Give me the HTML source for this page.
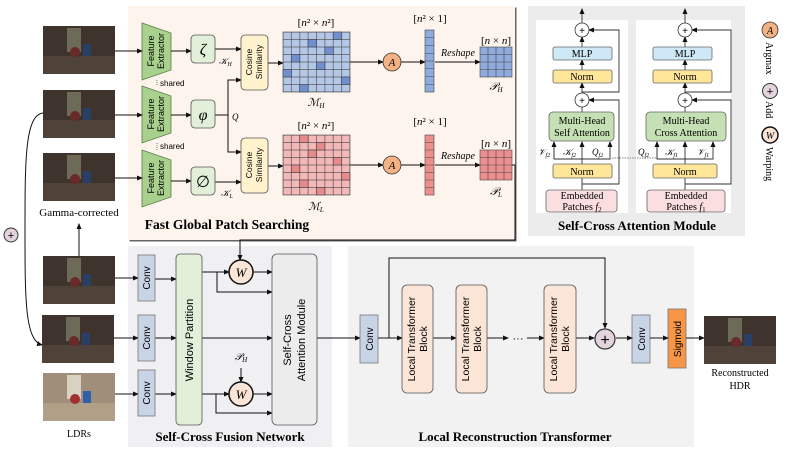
<!DOCTYPE html>
<html><head><meta charset="utf-8"><style>
html,body{margin:0;padding:0;background:#fff;}
svg{display:block;}
.s{font-family:"Liberation Sans",sans-serif;}
.r{font-family:"Liberation Serif",serif;}
</style></head><body>
<svg width="789" height="453" viewBox="0 0 789 453" xmlns="http://www.w3.org/2000/svg">
<defs>
<marker id="ar" markerWidth="6" markerHeight="6" refX="5" refY="3" orient="auto" markerUnits="userSpaceOnUse"><path d="M0,0.5 L6,3 L0,5.5 z" fill="#111"/></marker>
<pattern id="gb" width="8.375" height="7.5" patternUnits="userSpaceOnUse" x="283" y="32"><rect width="8.375" height="7.5" fill="#b4c7e7" stroke="#444" stroke-width="0.6"/></pattern>
<pattern id="gr" width="8.375" height="7.5" patternUnits="userSpaceOnUse" x="283" y="135"><rect width="8.375" height="7.5" fill="#f4b8b8" stroke="#444" stroke-width="0.6"/></pattern>
<g id="img">
<rect x="0" y="0" width="72" height="48" fill="#3f342d"/>
<rect x="24" y="2" width="14" height="24" fill="#6e6a58"/>
<rect x="0" y="30" width="72" height="18" fill="#4e4239"/>
<circle cx="32" cy="26" r="5" fill="#6a2a2a"/>
<rect x="40" y="18" width="8" height="12" fill="#2a3f66"/>
</g>
<g id="imgb">
<rect x="0" y="0" width="72" height="48" fill="#a08e7a"/>
<rect x="24" y="2" width="14" height="24" fill="#d8d2c2"/>
<rect x="0" y="30" width="72" height="18" fill="#b0a088"/>
<circle cx="32" cy="26" r="5" fill="#a03030"/>
<rect x="40" y="18" width="8" height="12" fill="#3060a8"/>
</g>
</defs>

<rect x="129.5" y="7.5" width="387" height="234" fill="#666"/>
<rect x="128" y="6" width="387" height="234" fill="#fdf4ee"/>
<rect x="528" y="6" width="217" height="230" fill="#ececec"/>
<rect x="536" y="20" width="92" height="193" fill="#fff"/>
<rect x="636" y="20" width="95" height="193" fill="#fff"/>
<rect x="128" y="246" width="204" height="201" fill="#f0f0f2"/>
<rect x="348" y="246" width="346" height="201" fill="#f2f2f2"/>

<use href="#img" x="43" y="26"/>
<use href="#img" x="43" y="90"/>
<use href="#img" x="43" y="153"/>
<use href="#img" x="43" y="256"/>
<use href="#img" x="42" y="315"/>
<use href="#imgb" x="43" y="373"/>
<use href="#img" x="704" y="316"/>
<text x="79" y="216" class="r" font-size="11" text-anchor="middle">Gamma-corrected</text>
<text x="79" y="437" class="r" font-size="10" text-anchor="middle">LDRs</text>
<text x="740" y="376" class="r" font-size="10" text-anchor="middle">Reconstructed</text>
<text x="740" y="389" class="r" font-size="10" text-anchor="middle">HDR</text>
<line x1="79" y1="256" x2="79" y2="224" stroke="#111" marker-end="url(#ar)"/>
<path d="M43,113 C25,115 25,160 25,230 C25,300 25,340 42,345" fill="none" stroke="#111" marker-end="url(#ar)"/>
<circle cx="11" cy="235" r="7" fill="#e3d3dc" stroke="#333"/>
<text x="11" y="239" class="s" font-size="11" text-anchor="middle">+</text>

<g fill="#a9d18e" stroke="#5a7a4a" stroke-width="0.8">
<polygon points="142,23 171,33 171,70 142,80"/>
<polygon points="142,86 171,96 171,133 142,143"/>
<polygon points="142,150 171,160 171,197 142,207"/>
</g>
<g class="s" font-size="9" text-anchor="middle">
<text transform="translate(154,51) rotate(-90)">Feature</text><text transform="translate(164,51) rotate(-90)">Extractor</text>
<text transform="translate(154,114) rotate(-90)">Feature</text><text transform="translate(164,114) rotate(-90)">Extractor</text>
<text transform="translate(154,178) rotate(-90)">Feature</text><text transform="translate(164,178) rotate(-90)">Extractor</text>
</g>
<line x1="157" y1="80" x2="157" y2="86" stroke="#777" stroke-dasharray="1,1"/>
<line x1="157" y1="143" x2="157" y2="150" stroke="#777" stroke-dasharray="1,1"/>
<text x="160" y="86" class="s" font-size="8">shared</text>
<text x="160" y="149" class="s" font-size="8">shared</text>
<g stroke="#111" fill="none">
<line x1="115" y1="51" x2="142" y2="51" marker-end="url(#ar)"/>
<line x1="115" y1="115" x2="142" y2="115" marker-end="url(#ar)"/>
<line x1="115" y1="178" x2="142" y2="178" marker-end="url(#ar)"/>
<line x1="171" y1="51" x2="191" y2="51" marker-end="url(#ar)"/>
<line x1="171" y1="115" x2="191" y2="115" marker-end="url(#ar)"/>
<line x1="171" y1="181" x2="191" y2="181" marker-end="url(#ar)"/>
<line x1="215" y1="49" x2="241" y2="49" marker-end="url(#ar)"/>
<polyline points="215,115 228,115 228,80 241,80" marker-end="url(#ar)"/>
<polyline points="228,115 228,152 241,152" marker-end="url(#ar)"/>
<line x1="215" y1="182" x2="241" y2="182" marker-end="url(#ar)"/>
<line x1="268" y1="63" x2="283" y2="63" marker-end="url(#ar)"/>
<line x1="268" y1="166" x2="283" y2="166" marker-end="url(#ar)"/>
<line x1="350" y1="62" x2="383" y2="62" marker-end="url(#ar)"/>
<line x1="350" y1="165" x2="383" y2="165" marker-end="url(#ar)"/>
<line x1="401" y1="62" x2="425" y2="62" marker-end="url(#ar)"/>
<line x1="401" y1="165" x2="425" y2="165" marker-end="url(#ar)"/>
<line x1="435" y1="62" x2="480" y2="62" marker-end="url(#ar)"/>
<line x1="435" y1="165" x2="480" y2="165" marker-end="url(#ar)"/>
<polyline points="512,165 515,165 515,240 240,240 240,260" marker-end="url(#ar)"/>
</g>
<g fill="#e2f0d9" stroke="#555" stroke-width="0.8">
<rect x="191" y="35" width="24" height="28" rx="4"/>
<rect x="191" y="100" width="24" height="28" rx="4"/>
<rect x="191" y="167" width="24" height="28" rx="4"/>
</g>
<g class="r" font-size="16" text-anchor="middle" font-style="italic">
<text x="203" y="55">ζ</text><text x="203" y="120">φ</text><text x="203" y="187" font-style="normal">∅</text>
</g>
<g class="r" font-size="9" font-style="italic">
<text x="219" y="64">𝒦<tspan font-size="6" dy="2">H</tspan></text>
<text x="232" y="120">Q</text>
<text x="221" y="196">𝒦<tspan font-size="6" dy="2">L</tspan></text>
</g>
<g fill="#fff2cc" stroke="#555" stroke-width="0.8">
<rect x="241" y="35" width="27" height="55" rx="4"/>
<rect x="241" y="138" width="27" height="55" rx="4"/>
</g>
<g class="s" font-size="8.5" text-anchor="middle">
<text transform="translate(252,62) rotate(-90)">Cosine</text><text transform="translate(262,62) rotate(-90)">Similarity</text>
<text transform="translate(252,165) rotate(-90)">Cosine</text><text transform="translate(262,165) rotate(-90)">Similarity</text>
</g>
<rect x="283" y="32" width="67" height="60" fill="url(#gb)" stroke="#444" stroke-width="0.6"/>
<rect x="283" y="135" width="67" height="60" fill="url(#gr)" stroke="#444" stroke-width="0.6"/>
<g fill="#6f8fd0" stroke="#444" stroke-width="0.6">
<rect x="333.25" y="32" width="8.375" height="7.5"/><rect x="308.1" y="39.5" width="8.375" height="7.5"/>
<rect x="324.9" y="47" width="8.375" height="7.5"/><rect x="291.4" y="54.5" width="8.375" height="7.5"/>
<rect x="316.5" y="62" width="8.375" height="7.5"/><rect x="283" y="69.5" width="8.375" height="7.5"/>
<rect x="341.6" y="77" width="8.375" height="7.5"/><rect x="299.75" y="84.5" width="8.375" height="7.5"/>
</g>
<g fill="#e88a8a" stroke="#444" stroke-width="0.6">
<rect x="299.75" y="135" width="8.375" height="7.5"/><rect x="316.5" y="142.5" width="8.375" height="7.5"/>
<rect x="308.1" y="150" width="8.375" height="7.5"/><rect x="333.25" y="157.5" width="8.375" height="7.5"/>
<rect x="291.4" y="165" width="8.375" height="7.5"/><rect x="341.6" y="172.5" width="8.375" height="7.5"/>
<rect x="299.75" y="180" width="8.375" height="7.5"/><rect x="316.5" y="187.5" width="8.375" height="7.5"/>
</g>
<g class="r" font-size="11" text-anchor="middle">
<text x="316" y="26">[<tspan font-style="italic">n</tspan>² × <tspan font-style="italic">n</tspan>²]</text>
<text x="316" y="129">[<tspan font-style="italic">n</tspan>² × <tspan font-style="italic">n</tspan>²]</text>
<text x="430" y="22">[<tspan font-style="italic">n</tspan>² × 1]</text>
<text x="430" y="125">[<tspan font-style="italic">n</tspan>² × 1]</text>
<text x="496" y="44">[<tspan font-style="italic">n</tspan> × <tspan font-style="italic">n</tspan>]</text>
<text x="496" y="147">[<tspan font-style="italic">n</tspan> × <tspan font-style="italic">n</tspan>]</text>
<text x="458" y="56" font-style="italic" font-size="10">Reshape</text>
<text x="458" y="159" font-style="italic" font-size="10">Reshape</text>
<text x="316" y="106" font-style="italic">ℳ<tspan font-size="7" dy="2">H</tspan></text>
<text x="316" y="210" font-style="italic">ℳ<tspan font-size="7" dy="2">L</tspan></text>
<text x="496" y="90" font-style="italic">𝒫<tspan font-size="7" dy="2">H</tspan></text>
<text x="496" y="195" font-style="italic">𝒫<tspan font-size="7" dy="2">L</tspan></text>
</g>
<g stroke="#444" stroke-width="0.6">
<g fill="#8faadc">
<rect x="425" y="30" width="9" height="62"/>
<rect x="480" y="47" width="32" height="30"/>
</g>
<g fill="#ee8f8f">
<rect x="425" y="135" width="9" height="60"/>
<rect x="480" y="150" width="32" height="30"/>
</g>
<path d="M425,37.75h9M425,45.5h9M425,53.25h9M425,61h9M425,68.75h9M425,76.5h9M425,84.25h9 M425,142.5h9M425,150h9M425,157.5h9M425,165h9M425,172.5h9M425,180h9M425,187.5h9 M488,47v30M496,47v30M504,47v30M480,54.5h32M480,62h32M480,69.5h32 M488,150v30M496,150v30M504,150v30M480,157.5h32M480,165h32M480,172.5h32"/>
</g>
<g fill="#f4b183" stroke="#333" stroke-width="0.8">
<circle cx="392" cy="62" r="9"/><circle cx="392" cy="165" r="9"/><circle cx="770" cy="30" r="8"/>
</g>
<g class="r" font-size="11" font-style="italic" text-anchor="middle">
<text x="392" y="66">A</text><text x="392" y="169">A</text><text x="770" y="34" font-size="10">A</text>
</g>
<text x="227" y="229" class="r" font-size="13.5" font-weight="bold" text-anchor="middle">Fast Global Patch Searching</text>

<g stroke="#333" fill="none" stroke-width="0.9">
<line x1="582" y1="23" x2="582" y2="9" marker-end="url(#ar)"/>
<line x1="685" y1="23" x2="685" y2="9" marker-end="url(#ar)"/>
<line x1="582" y1="47" x2="582" y2="37" marker-end="url(#ar)"/>
<line x1="685" y1="47" x2="685" y2="37" marker-end="url(#ar)"/>
<line x1="582" y1="70" x2="582" y2="60" marker-end="url(#ar)"/>
<line x1="685" y1="70" x2="685" y2="60" marker-end="url(#ar)"/>
<line x1="582" y1="93" x2="582" y2="83" marker-end="url(#ar)"/>
<line x1="685" y1="93" x2="685" y2="83" marker-end="url(#ar)"/>
<line x1="582" y1="112" x2="582" y2="107"/>
<line x1="685" y1="112" x2="685" y2="107"/>
<polyline points="582,92 619,92 619,30 589,30" marker-end="url(#ar)"/>
<polyline points="685,92 731,92 731,30 692,30" marker-end="url(#ar)"/>
<polyline points="582,184 619,184 619,100 589,100" marker-end="url(#ar)"/>
<polyline points="685,184 731,184 731,100 692,100" marker-end="url(#ar)"/>
<line x1="582" y1="190" x2="582" y2="178"/>
<line x1="685" y1="190" x2="685" y2="178"/>
<line x1="582" y1="164" x2="582" y2="142" marker-end="url(#ar)"/>
<line x1="685" y1="164" x2="685" y2="142" marker-end="url(#ar)"/>
<polyline points="554,142 554,159 610,159 610,142" marker-end="url(#ar)"/>
<line x1="554" y1="159" x2="554" y2="142" marker-end="url(#ar)"/>
<polyline points="657,142 657,159 713,159 713,142" marker-end="url(#ar)"/>
<line x1="657" y1="159" x2="657" y2="142" marker-end="url(#ar)"/>
</g>
<line x1="612" y1="158" x2="658" y2="158" stroke="#888" stroke-dasharray="1.5,1"/>
<g fill="#fff" stroke="#333" stroke-width="0.8">
<circle cx="582" cy="30" r="7"/><circle cx="685" cy="30" r="7"/>
<circle cx="582" cy="100" r="7"/><circle cx="685" cy="100" r="7"/>
</g>
<g class="s" font-size="10" text-anchor="middle">
<text x="582" y="34">+</text><text x="685" y="34">+</text><text x="582" y="104">+</text><text x="685" y="104">+</text>
</g>
<g stroke="#666" stroke-width="0.8">
<rect x="553" y="47" width="59" height="13" rx="2" fill="#cfe8f7"/>
<rect x="653" y="47" width="59" height="13" rx="2" fill="#cfe8f7"/>
<rect x="553" y="70" width="59" height="13" rx="2" fill="#ffe699"/>
<rect x="653" y="70" width="59" height="13" rx="2" fill="#ffe699"/>
<rect x="549" y="112" width="65" height="29" rx="4" fill="#c5e0b4"/>
<rect x="646" y="112" width="80" height="29" rx="4" fill="#c5e0b4"/>
<rect x="553" y="164" width="59" height="14" rx="2" fill="#ffe699"/>
<rect x="653" y="164" width="64" height="14" rx="2" fill="#ffe699"/>
<rect x="546" y="190" width="71" height="22" rx="3" fill="#fbdfe0"/>
<rect x="647" y="190" width="78" height="22" rx="3" fill="#fbdfe0"/>
</g>
<g class="r" font-size="10" text-anchor="middle">
<text x="582" y="57">MLP</text><text x="685" y="57">MLP</text>
<text x="582" y="80">Norm</text><text x="685" y="80">Norm</text>
<text x="582" y="124">Multi-Head</text><text x="582" y="136">Self Attention</text>
<text x="686" y="124">Multi-Head</text><text x="686" y="136">Cross Attention</text>
<text x="582" y="175">Norm</text><text x="685" y="175">Norm</text>
<text x="582" y="199">Embedded</text><text x="582" y="210">Patches <tspan font-style="italic">f</tspan><tspan font-size="7" dy="2">2</tspan></text>
<text x="686" y="199">Embedded</text><text x="686" y="210">Patches <tspan font-style="italic">f</tspan><tspan font-size="7" dy="2">1</tspan></text>
</g>
<g class="r" font-size="9" font-style="italic">
<text x="538" y="155">𝒱<tspan font-size="6" dy="2">f2</tspan></text>
<text x="563" y="155">𝒦<tspan font-size="6" dy="2">f2</tspan></text>
<text x="592" y="155">Q<tspan font-size="6" dy="2">f2</tspan></text>
<text x="638" y="155">Q<tspan font-size="6" dy="2">f2</tspan></text>
<text x="665" y="155">𝒦<tspan font-size="6" dy="2">f1</tspan></text>
<text x="697" y="155">𝒱<tspan font-size="6" dy="2">f1</tspan></text>
</g>
<text x="637" y="230" class="r" font-size="13" font-weight="bold" text-anchor="middle">Self-Cross Attention Module</text>

<circle cx="770" cy="91" r="7.5" fill="#e3d3dc" stroke="#333"/>
<text x="770" y="95" class="s" font-size="11" text-anchor="middle">+</text>
<circle cx="770" cy="135" r="8" fill="#fbe5d6" stroke="#111" stroke-width="1.5"/>
<text x="770" y="139" class="r" font-size="10" font-style="italic" text-anchor="middle">W</text>
<g class="r" font-size="10">
<text transform="translate(766,42) rotate(90)">Argmax</text>
<text transform="translate(766,101) rotate(90)">Add</text>
<text transform="translate(766,147) rotate(90)">Warping</text>
</g>

<g stroke="#111" fill="none">
<line x1="115" y1="278" x2="138" y2="278" marker-end="url(#ar)"/>
<line x1="114" y1="338" x2="138" y2="338" marker-end="url(#ar)"/>
<line x1="115" y1="394" x2="138" y2="394" marker-end="url(#ar)"/>
<line x1="155" y1="279" x2="176" y2="279" marker-end="url(#ar)"/>
<line x1="155" y1="338" x2="176" y2="338" marker-end="url(#ar)"/>
<line x1="155" y1="394" x2="176" y2="394" marker-end="url(#ar)"/>
<line x1="202" y1="272" x2="229" y2="272" marker-end="url(#ar)"/>
<polyline points="217,272 217,292 272,292" marker-end="url(#ar)"/>
<line x1="253" y1="272" x2="272" y2="272" marker-end="url(#ar)"/>
<line x1="202" y1="338" x2="272" y2="338" marker-end="url(#ar)"/>
<line x1="202" y1="394" x2="229" y2="394" marker-end="url(#ar)"/>
<polyline points="216,394 216,413 272,413" marker-end="url(#ar)"/>
<line x1="253" y1="394" x2="272" y2="394" marker-end="url(#ar)"/>
<line x1="241" y1="368" x2="241" y2="382" marker-end="url(#ar)"/>
<line x1="317" y1="338" x2="360" y2="338" marker-end="url(#ar)"/>
</g>
<g fill="#c9d3e6" stroke="#777" stroke-width="0.8">
<rect x="138" y="255" width="17" height="46"/>
<rect x="138" y="315" width="17" height="46"/>
<rect x="138" y="370" width="17" height="46"/>
<rect x="360" y="315" width="18" height="48"/>
<rect x="632" y="315" width="18" height="48"/>
</g>
<rect x="668" y="309" width="18" height="59" fill="#f79646" stroke="#777" stroke-width="0.8"/>
<g class="s" font-size="10" text-anchor="middle">
<text transform="translate(150,278) rotate(-90)">Conv</text>
<text transform="translate(150,338) rotate(-90)">Conv</text>
<text transform="translate(150,393) rotate(-90)">Conv</text>
<text transform="translate(373,339) rotate(-90)">Conv</text>
<text transform="translate(645,339) rotate(-90)">Conv</text>
<text transform="translate(681,339) rotate(-90)">Sigmoid</text>
</g>
<rect x="176" y="254" width="26" height="171" rx="4" fill="#e2f0d9" stroke="#555" stroke-width="0.8"/>
<text transform="translate(193,340) rotate(-90)" class="s" font-size="11" text-anchor="middle">Window Partition</text>
<rect x="272" y="254" width="45" height="171" rx="5" fill="#ececec" stroke="#555" stroke-width="0.8"/>
<text transform="translate(291,340) rotate(-90)" class="s" font-size="11" text-anchor="middle">Self-Cross</text>
<text transform="translate(305,340) rotate(-90)" class="s" font-size="11" text-anchor="middle">Attention Module</text>
<g fill="#fbe5d6" stroke="#111" stroke-width="1.5">
<circle cx="241" cy="272" r="12"/><circle cx="241" cy="394" r="12"/>
</g>
<g class="r" font-size="13" font-style="italic" text-anchor="middle">
<text x="241" y="277">W</text><text x="241" y="399">W</text>
</g>
<text x="241" y="360" class="r" font-size="10" font-style="italic" text-anchor="middle">𝒫<tspan font-size="7" dy="2">H</tspan></text>
<text x="230" y="441" class="r" font-size="13" font-weight="bold" text-anchor="middle">Self-Cross Fusion Network</text>

<g stroke="#111" fill="none">
<polyline points="389,338 389,258 605,258 605,328" marker-end="url(#ar)"/>
<line x1="378" y1="338" x2="402" y2="338" marker-end="url(#ar)"/>
<line x1="433" y1="338" x2="456" y2="338" marker-end="url(#ar)"/>
<line x1="487" y1="338" x2="508" y2="338" marker-end="url(#ar)"/>
<line x1="527" y1="338" x2="544" y2="338" marker-end="url(#ar)"/>
<line x1="576" y1="338" x2="594" y2="338" marker-end="url(#ar)"/>
<line x1="616" y1="338" x2="632" y2="338" marker-end="url(#ar)"/>
<line x1="650" y1="338" x2="668" y2="338" marker-end="url(#ar)"/>
<line x1="686" y1="338" x2="704" y2="338" marker-end="url(#ar)"/>
</g>
<text x="518" y="342" class="s" font-size="11" text-anchor="middle">···</text>
<g fill="#fbe5d6" stroke="#555" stroke-width="0.8">
<rect x="402" y="285" width="31" height="108" rx="5"/>
<rect x="456" y="285" width="31" height="108" rx="5"/>
<rect x="544" y="285" width="32" height="108" rx="5"/>
</g>
<g class="s" font-size="10.5" text-anchor="middle">
<text transform="translate(415,339) rotate(-90)">Local Transformer</text><text transform="translate(427,339) rotate(-90)">Block</text>
<text transform="translate(469,339) rotate(-90)">Local Transformer</text><text transform="translate(481,339) rotate(-90)">Block</text>
<text transform="translate(557,339) rotate(-90)">Local Transformer</text><text transform="translate(569,339) rotate(-90)">Block</text>
</g>
<circle cx="605" cy="339" r="10" fill="#e3d3dc" stroke="#333" stroke-width="1.2"/>
<text x="605" y="345" class="s" font-size="16" text-anchor="middle">+</text>
<text x="515" y="441" class="r" font-size="13" font-weight="bold" text-anchor="middle">Local Reconstruction Transformer</text>
</svg>
</body></html>
